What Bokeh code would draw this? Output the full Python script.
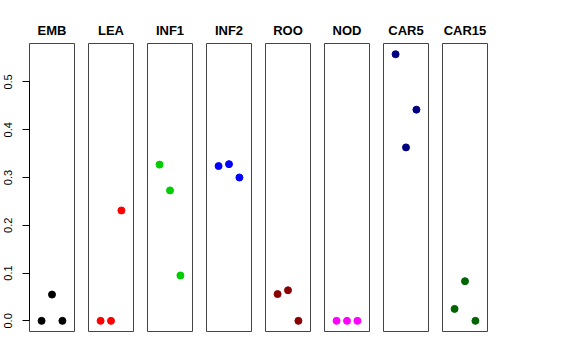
from bokeh.plotting import figure
from bokeh.layouts import row
from bokeh.models import Range1d, FixedTicker
from bokeh.embed import file_html
from bokeh.resources import INLINE

categories = ["EMB", "LEA", "INF1", "INF2", "ROO", "NOD", "CAR5", "CAR15"]
colors = ["black", "#FF0000", "#00CD00", "#0000FF", "#8B0000", "#FF00FF", "#000080", "#006400"]
x_pos = [1, 2, 3]
values = {
    "EMB":   [0.000, 0.055, 0.000],
    "LEA":   [0.000, 0.000, 0.231],
    "INF1":  [0.327, 0.273, 0.095],
    "INF2":  [0.324, 0.328, 0.300],
    "ROO":   [0.056, 0.064, 0.000],
    "NOD":   [0.000, 0.000, 0.000],
    "CAR5":  [0.558, 0.363, 0.442],
    "CAR15": [0.025, 0.083, 0.000],
}
y_ticks = [0.0, 0.1, 0.2, 0.3, 0.4, 0.5]

FONT = "Liberation Sans"
frame_w = 45
frame_h = 288
top = 43
bottom = 10
gap = 7

figs = []
for i, cat in enumerate(categories):
    first = i == 0
    left = 29 if first else gap
    p = figure(
        width=left + frame_w + gap,
        height=top + frame_h + bottom,
        x_range=Range1d(-0.16, 4.16),
        y_range=Range1d(-0.0223, 0.5805),
        output_backend="svg",
        toolbar_location=None,
        x_axis_location=None,
        y_axis_location="left" if first else None,
        min_border_left=left,
        min_border_right=gap,
        min_border_top=top,
        min_border_bottom=bottom,
        title=cat,
    )
    p.xgrid.visible = False
    p.ygrid.visible = False
    p.outline_line_color = "#444444"
    p.outline_line_width = 1
    p.title.align = "center"
    p.title.text_font = FONT
    p.title.text_font_style = "bold"
    p.title.text_font_size = "13px"
    p.title.text_color = "black"
    p.title.standoff = 11
    if first:
        ax = p.yaxis[0]
        ax.ticker = FixedTicker(ticks=y_ticks)
        ax.bounds = (0, 0.5)
        ax.major_label_orientation = "vertical"
        ax.major_label_text_font = FONT
        ax.major_label_text_font_size = "11px"
        ax.major_label_text_color = "black"
        ax.major_tick_out = 7
        ax.major_tick_in = 0
        ax.minor_tick_out = 0
        ax.minor_tick_in = 0
        ax.major_label_standoff = 10
        ax.axis_line_color = "black"
        ax.major_tick_line_color = "black"
        ax.major_label_overrides = {t: f"{t:.1f}" for t in y_ticks}
    p.scatter(x_pos, values[cat], size=7, color=colors[i], line_color=colors[i])
    figs.append(p)

layout = row(*figs, spacing=0)
open("out.html", "w").write(file_html(layout, INLINE))
